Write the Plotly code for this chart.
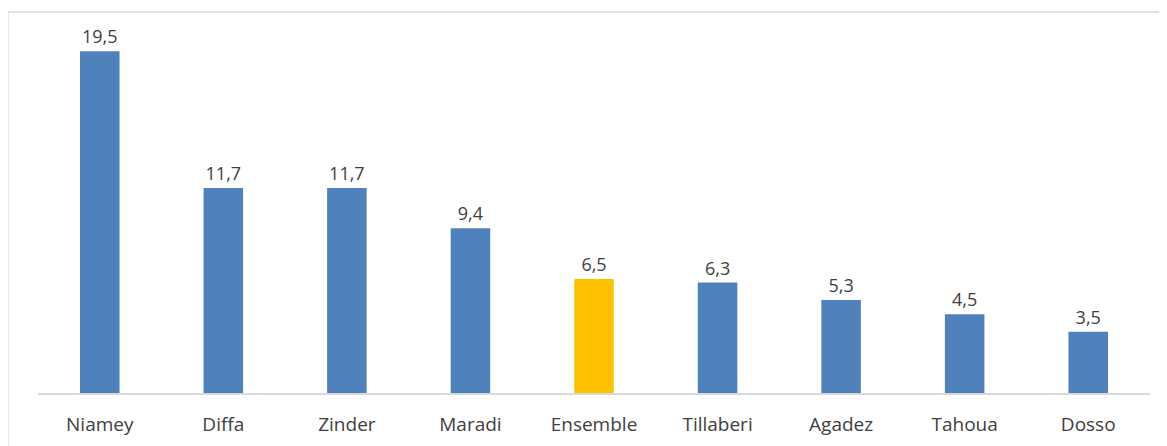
import plotly.graph_objects as go

regions = ["Niamey", "Diffa", "Zinder", "Maradi", "Ensemble", "Tillaberi", "Agadez", "Tahoua", "Dosso"]
values = [19.5, 11.7, 11.7, 9.4, 6.5, 6.3, 5.3, 4.5, 3.5]
colors = ["#FFC000" if r == "Ensemble" else "#4F81BD" for r in regions]

# the page body has an 8px margin, so figure coords = page coords - 8
W, H = 1167, 446
ml, mr, mt, mb = 30, 25, 17, 61
pw, ph = W - ml - mr, H - mt - mb
font = "Open Sans, Liberation Sans, sans-serif"

fig = go.Figure(go.Bar(
    x=regions,
    y=values,
    marker=dict(color=colors, line=dict(width=0)),
    texttemplate="%{y:.1f}",
    textposition="outside",
    textfont=dict(family=font, size=18, color="#404040"),
    cliponaxis=False,
))

fig.update_layout(
    width=W, height=H,
    margin=dict(l=ml, r=mr, t=mt, b=mb),
    paper_bgcolor="white",
    plot_bgcolor="white",
    separators=", ",
    bargap=0.68,
    showlegend=False,
    xaxis=dict(
        showline=True, linecolor="#D9D9D9", linewidth=1.5,
        ticks="", showgrid=False, ticklabelstandoff=13,
        tickfont=dict(family=font, size=19, color="#404040"),
    ),
    yaxis=dict(range=[0, 21], visible=False, showgrid=False),
    shapes=[dict(
        type="rect", xref="paper", yref="paper",
        x0=(0 - ml) / pw, x1=(1152 - ml) / pw,
        y0=(H - mb - 460) / ph, y1=(H - mb - 4) / ph,
        line=dict(color="#D9D9D9", width=1.3),
        fillcolor="rgba(0,0,0,0)",
        layer="below",
    )],
)

fig.write_html("out.html")
